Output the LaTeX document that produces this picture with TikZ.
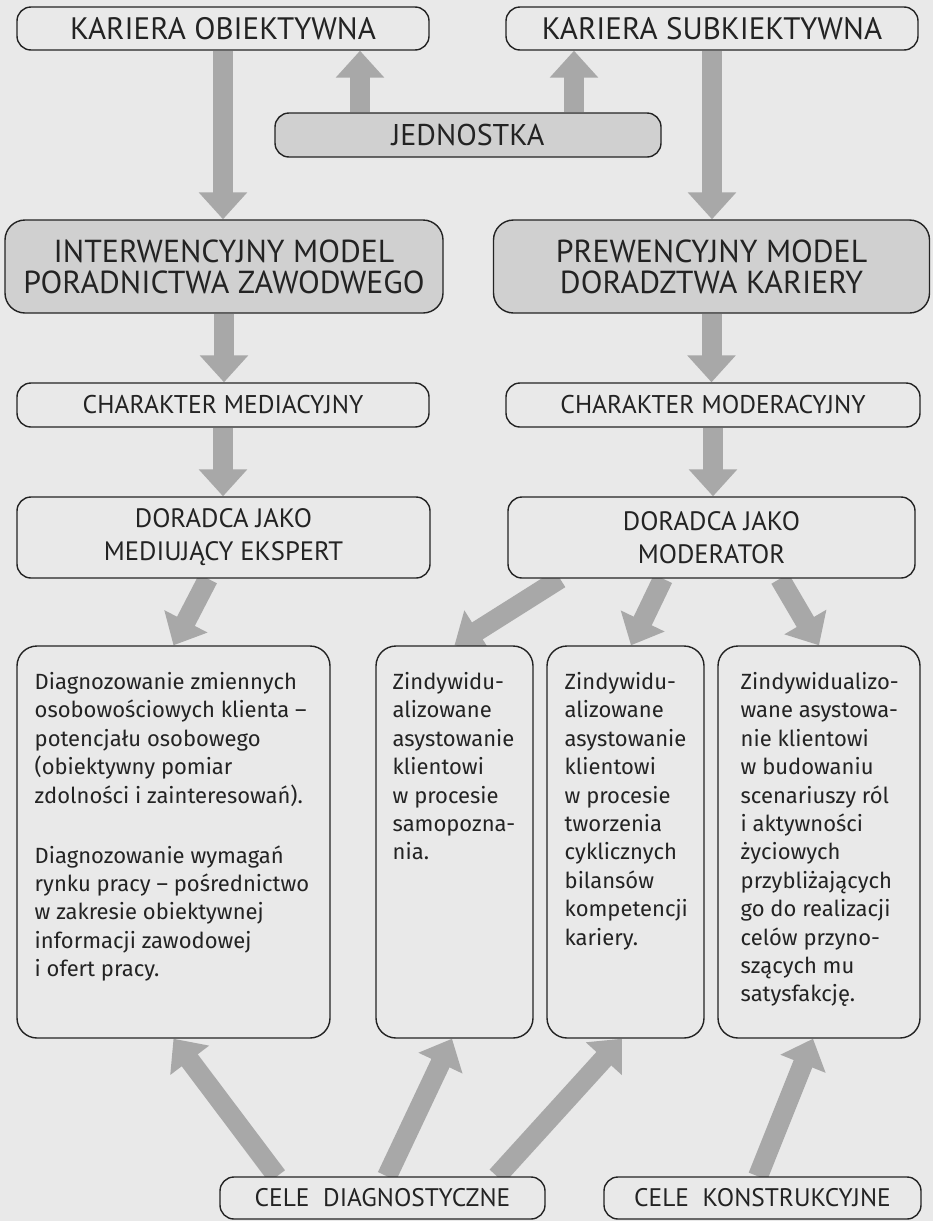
\documentclass[tikz,border=0pt]{standalone}
\usepackage{fontspec}
\setmainfont{Fira Sans}
\newfontfamily\capsfont{PT Sans}
\usepackage{tikz}
\usetikzlibrary{
  arrows.meta,
  calc,
  backgrounds
}

\definecolor{paper}{RGB}{233,233,233}
\definecolor{boxgray}{RGB}{208,208,208}
\definecolor{arrowgray}{RGB}{168,168,168}
\definecolor{inkgray}{RGB}{35,35,35}

\tikzset{
  capbox/.style={draw=inkgray, line width=0.7pt, fill=paper, rounded corners=7pt,
    inner sep=0pt, align=center, text=inkgray,
    font=\capsfont\fontsize{15.5}{17}\selectfont},
  modelbox/.style={capbox, fill=boxgray, rounded corners=10pt,
    font=\capsfont\fontsize{15.9}{15.5}\selectfont},
  textbox/.style={draw=inkgray, line width=0.7pt, fill=paper, rounded corners=10pt,
    minimum height=196pt, inner sep=0pt},
  bodytext/.style={anchor=north west, align=left, inner sep=0pt, text=inkgray,
    font=\fontsize{11}{14.2}\selectfont},
  fatarrow/.style={draw=arrowgray, line width=10pt,
    -{Triangle[width=23.5pt,length=13.5pt]}}
}

\begin{document}
\begin{tikzpicture}[x=0.5pt,y=-0.5pt]
\useasboundingbox (0,0) rectangle (933,1221);

% top row
\node[capbox, minimum width=206pt, minimum height=21.5pt] (kob) at (223,28.5) {KARIERA OBIEKTYWNA};
\node[capbox, minimum width=206pt, minimum height=21.5pt] (ksub) at (712,28.5) {KARIERA SUBKIEKTYWNA};
\node[capbox, fill=boxgray, minimum width=193pt, minimum height=22pt, font=\capsfont\fontsize{15}{17}\selectfont] (jed) at (468,135) {JEDNOSTKA};

% models
\node[modelbox, minimum width=219pt, minimum height=46.5pt] (imod) at (224,266.5) {INTERWENCYJNY MODEL\\PORADNICTWA ZAWODWEGO};
\node[modelbox, minimum width=218pt, minimum height=46.5pt] (pmod) at (711.5,266.5) {PREWENCYJNY MODEL\\DORADZTWA KARIERY};

\node[capbox, minimum width=206pt, minimum height=22pt, font=\capsfont\fontsize{12.8}{14}\selectfont] (chmed) at (223,405) {CHARAKTER MEDIACYJNY};
\node[capbox, minimum width=207pt, minimum height=22pt, font=\capsfont\fontsize{12.8}{14}\selectfont] (chmod) at (713,405) {CHARAKTER MODERACYJNY};

\node[capbox, minimum width=206.5pt, minimum height=40.5pt, font=\capsfont\fontsize{13.3}{16.5}\selectfont] (dmed) at (223.5,537.5) {DORADCA JAKO\\MEDIUJĄCY EKSPERT};
\node[capbox, minimum width=203.5pt, minimum height=40.5pt, font=\capsfont\fontsize{13.3}{16.5}\selectfont] (dmod) at (711.5,537.5) {DORADCA JAKO\\MODERATOR};

% lower boxes
\node[textbox, minimum width=156.5pt] (boxA) at (173.5,842) {};
\node[textbox, minimum width=78.5pt] (boxB) at (454.5,842) {};
\node[textbox, minimum width=78.5pt] (boxC) at (625.5,842) {};
\node[textbox, minimum width=101pt] (boxD) at (819,842) {};

\node[bodytext] (txtA) at ($(boxA.north west)+(18,24)$) {\strut Diagnozowanie zmiennych\\osobowościowych klienta –\\potencjału osobowego\\(obiektywny pomiar\\zdolności i zainteresowań).\\[15.8pt]Diagnozowanie wymagań\\rynku pracy – pośrednictwo\\w zakresie obiektywnej\\informacji zawodowej\\i ofert pracy.};
\node[bodytext] (txtB) at ($(boxB.north west)+(17,24)$) {\strut Zindywidu-\\alizowane\\asystowanie\\klientowi\\w procesie\\samopozna-\\nia.};
\node[bodytext] (txtC) at ($(boxC.north west)+(18,24)$) {\strut Zindywidu-\\alizowane\\asystowanie\\klientowi\\w procesie\\tworzenia\\cyklicznych\\bilansów\\kompetencji\\kariery.};
\node[bodytext] (txtD) at ($(boxD.north west)+(23,24)$) {\strut Zindywidualizo-\\wane asystowa-\\nie klientowi\\w budowaniu\\scenariuszy ról\\i aktywności\\życiowych\\przybliżających\\go do realizacji\\celów przyno-\\szących mu\\satysfakcję.};

% goals
\node[capbox, minimum width=162.5pt, minimum height=21pt, font=\capsfont\fontsize{12.7}{14}\selectfont] (cdiag) at (382.5,1198) {CELE\ \ DIAGNOSTYCZNE};
\node[capbox, minimum width=158.5pt, minimum height=21pt, font=\capsfont\fontsize{12.7}{14}\selectfont] (ckons) at (762.5,1198) {CELE\ \ KONSTRUKCYJNE};

\begin{scope}[on background layer]
\fill[paper] (0,0) rectangle (933,1221);

\draw[fatarrow] ([xshift=-54pt]jed.north) -- ([xshift=-54pt]jed.north |- kob.south);
\draw[fatarrow] ([xshift=53pt]jed.north) -- ([xshift=53pt]jed.north |- ksub.south);

\draw[fatarrow] (kob.south) -- (kob.south |- imod.north);
\draw[fatarrow] (ksub.south) -- (ksub.south |- pmod.north);
\draw[fatarrow] (imod.south) -- (imod.south |- chmed.north);
\draw[fatarrow] (pmod.south) -- (pmod.south |- chmod.north);
\draw[fatarrow] (chmed.south) -- (chmed.south |- dmed.north);
\draw[fatarrow] (chmod.south) -- (chmod.south |- dmod.north);

\draw[fatarrow] ([xshift=-7.75pt]dmed.south) -- (boxA.north);
\draw[fatarrow] ([xshift=-75.75pt]dmod.south) -- (boxB.north);
\draw[fatarrow] ([xshift=-24.25pt]dmod.south) -- ([xshift=2.75pt]boxC.north);
\draw[fatarrow] ([xshift=34.25pt]dmod.south) -- (boxD.north);

\draw[fatarrow] ([xshift=-52.75pt]cdiag.north) -- (boxA.south);
\draw[fatarrow] ([xshift=2.25pt]cdiag.north) -- ([xshift=-1.25pt]boxB.south);
\draw[fatarrow] ([xshift=57.25pt]cdiag.north) -- ([xshift=-1.75pt]boxC.south);
\draw[fatarrow] ([xshift=-2.25pt]ckons.north) -- ([xshift=-3pt]boxD.south);
\end{scope}
\end{tikzpicture}
\end{document}
